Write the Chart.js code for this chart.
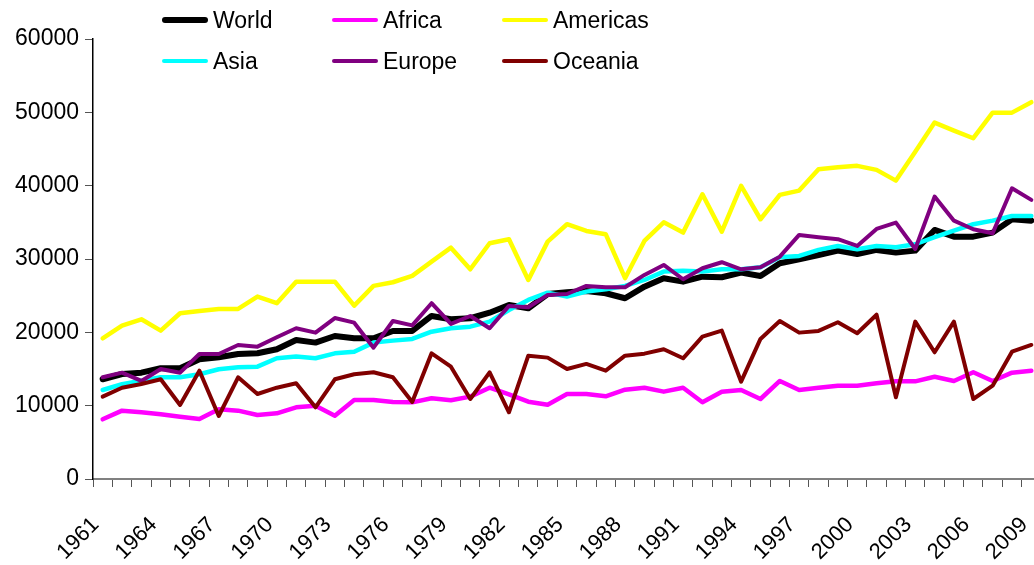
<!DOCTYPE html>
<html>
<head>
<meta charset="utf-8">
<script src="https://cdn.jsdelivr.net/npm/chart.js@4.4.1/dist/chart.umd.min.js"></script>
<style>
  html, body { margin: 0; padding: 0; background: #fff; overflow: hidden; }
  #wrap { position: relative; width: 1034px; height: 565px; overflow: hidden; }
  #c { position: absolute; left: 0; top: 0; }
  .lg-sw { position: absolute; border-radius: 3px; }
  .lg-tx { position: absolute; font-family: 'Liberation Sans', Arial, sans-serif; font-size: 23px; color: #000; line-height: 26px; white-space: nowrap; }
</style>
</head>
<body>
<div id="wrap">
  <canvas id="c" width="1075" height="565"></canvas>
</div>
<script>
// Years on the category axis
const years = [];
for (let y = 1961; y <= 2009; y++) years.push(String(y));

// Series values, one per year 1961-2009
const world = [13600, 14320, 14500, 15100, 15100, 16330, 16600, 17050, 17140, 17690, 18960, 18600, 19500, 19190, 19190, 20190, 20190,
  22230, 21780, 21920, 22680, 23730, 23280, 25230, 25460, 25640, 25330, 24650, 26230, 27380, 26910, 27590, 27510,
  28140, 27690, 29420, 29960, 30550, 31140, 30690, 31240, 30870, 31140, 33960, 33050, 33050, 33600, 35420, 35230];
const africa = [8140, 9320, 9100, 8830, 8500, 8190, 9500, 9320, 8730, 8960, 9780, 10000, 8640, 10780, 10780, 10500, 10450,
  11010, 10730, 11230, 12450, 11550, 10540, 10130, 11590, 11590, 11280, 12180, 12450, 11910, 12450, 10460, 11910,
  12140, 10910, 13370, 12140, 12450, 12730, 12730, 13050, 13320, 13320, 13950, 13370, 14550, 13370, 14500, 14770];
const americas = [19190, 20910, 21780, 20230, 22600, 22920, 23190, 23190, 24870, 23970, 26910, 26910, 26910, 23640, 26330, 26830, 27700,
  29640, 31550, 28600, 32150, 32700, 27140, 32370, 34740, 33830, 33380, 27380, 32460, 35010, 33600, 38830, 33730,
  39970, 35420, 38740, 39330, 42250, 42520, 42700, 42150, 40690, 44640, 48600, 47510, 46470, 49960, 49960, 51380];
const asia = [12140, 12920, 13410, 13870, 13870, 14280, 14960, 15240, 15320, 16460, 16690, 16460, 17140, 17360, 18600, 18870, 19100,
  20090, 20550, 20770, 21460, 23050, 24420, 25410, 24870, 25550, 25870, 26330, 27140, 28280, 28410, 28280, 28600,
  28600, 28870, 30240, 30420, 31240, 31780, 31330, 31780, 31600, 32010, 32970, 33870, 34740, 35230, 35870, 35870];
const europe = [13870, 14500, 13370, 15000, 14500, 17050, 17050, 18280, 18050, 19330, 20550, 19960, 21950, 21320, 17910, 21550, 20950,
  23970, 21140, 22230, 20550, 23600, 23420, 25100, 25230, 26330, 26150, 26150, 27830, 29190, 27240, 28740, 29560,
  28600, 28870, 30320, 33280, 32970, 32700, 31780, 34100, 34960, 31370, 38510, 35230, 34060, 33510, 39650, 38060];
const oceania = [11230, 12450, 12960, 13600, 10090, 14770, 8590, 13870, 11590, 12450, 13050, 9780, 13600, 14280, 14550, 13870, 10500,
  17140, 15320, 10910, 14550, 9100, 16820, 16550, 15000, 15690, 14770, 16820, 17090, 17690, 16460, 19410, 20230,
  13270, 19100, 21550, 19960, 20190, 21370, 19870, 22400, 11140, 21460, 17280, 21460, 10910, 12730, 17360, 18280];

// Series names and colours
const seriesNames = ['World', 'Africa', 'Americas', 'Asia', 'Europe', 'Oceania'];
const seriesData = [world, africa, americas, asia, europe, oceania];
const seriesColors = ['#000000', '#ff00ff', '#ffff00', '#00ffff', '#800080', '#800000'];
const seriesWidths = [6, 4.5, 4.5, 4.5, 4, 4];

// Y axis tick values
const yTicks = [0, 10000, 20000, 30000, 40000, 50000, 60000];

const FONT = "'Liberation Sans', Arial, sans-serif";

const datasets = seriesNames.map((name, i) => ({
  label: name,
  data: seriesData[i],
  borderColor: seriesColors[i],
  backgroundColor: seriesColors[i],
  borderWidth: seriesWidths[i],
  pointRadius: 0,
  pointHoverRadius: 0,
  tension: 0,
  fill: false,
  borderJoinStyle: 'round',
  borderCapStyle: 'round',
  order: seriesNames.length - i   // later series drawn on top
}));

new Chart(document.getElementById('c'), {
  type: 'line',
  data: { labels: years, datasets },
  options: {
    responsive: false,
    animation: false,
    layout: { padding: { top: 39, right: 0, left: 0, bottom: 0 } },
    plugins: { legend: { display: false }, tooltip: { enabled: false } },
    scales: {
      x: {
        type: 'category',
        offset: true,
        grid: { display: true, drawOnChartArea: false, drawTicks: true, tickLength: 8, offset: true, color: '#555', lineWidth: 1 },
        border: { display: true, color: '#808080', width: 2 },
        ticks: {
          autoSkip: false,
          maxRotation: 45,
          minRotation: 45,
          padding: 25,
          labelOffset: -7,
          color: '#000',
          font: { family: FONT, size: 22 },
          callback: function (v, idx) { return idx % 3 === 0 ? years[idx] : ''; }
        },
        afterFit: (s) => { s.height = 86; }
      },
      y: {
        min: 0,
        max: 60000,
        afterBuildTicks: (s) => { s.ticks = yTicks.map(v => ({ value: v })); },
        grid: { display: true, drawOnChartArea: false, drawTicks: true, tickLength: 8, color: '#555', lineWidth: 1 },
        border: { display: true, color: '#000', width: 1.5 },
        ticks: {
          padding: 6,
          color: '#000',
          font: { family: FONT, size: 23 },
          callback: (v) => String(v)
        },
        afterFit: (s) => { s.width = 93; }
      }
    }
  }
});

// Legend: three columns, two rows, built from the series definitions
const legendCols = [162, 332, 502];
const legendRows = [20, 61];
const wrap = document.getElementById('wrap');
seriesNames.forEach((name, i) => {
  const col = i % 3, row = Math.floor(i / 3);
  const x = legendCols[col], cy = legendRows[row];
  const h = i === 0 ? 6 : 4.5;
  const sw = document.createElement('div');
  sw.className = 'lg-sw';
  sw.style.left = x + 'px';
  sw.style.top = (cy - h / 2) + 'px';
  sw.style.width = '46px';
  sw.style.height = h + 'px';
  sw.style.background = seriesColors[i];
  wrap.appendChild(sw);
  const tx = document.createElement('div');
  tx.className = 'lg-tx';
  tx.textContent = name;
  tx.style.left = (x + 51) + 'px';
  tx.style.top = (cy - 13) + 'px';
  wrap.appendChild(tx);
});
</script>
</body>
</html>
